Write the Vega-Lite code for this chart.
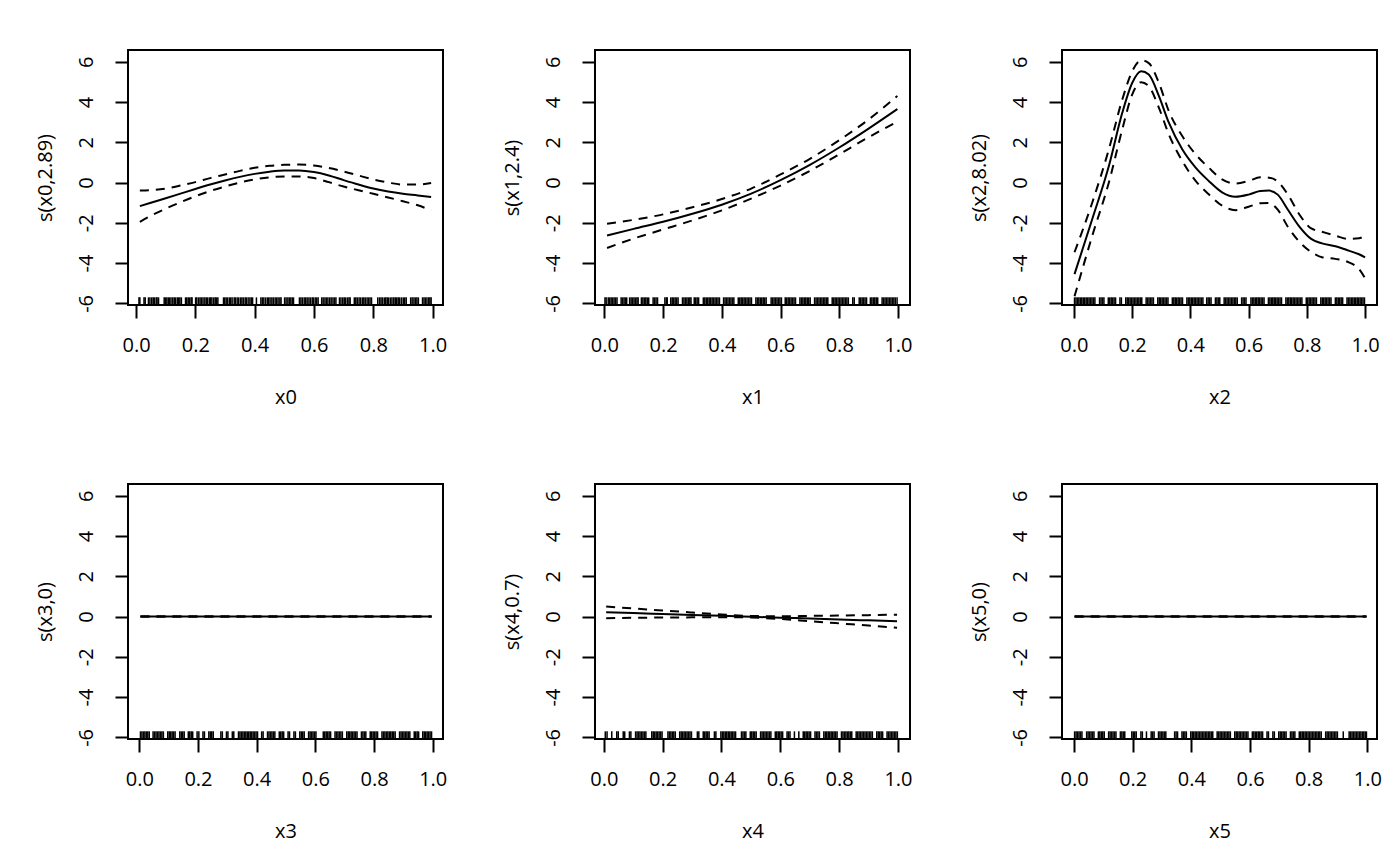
{
  "$schema": "https://vega.github.io/schema/vega-lite/v6.json",
  "background": "white",
  "autosize": {"type": "pad"},
  "padding": {"left": 33, "top": 49, "right": 10, "bottom": 10},
  "columns": 3,
  "spacing": {"row": 179, "column": 152},
  "bounds": "flush",
  "concat": [
    {
      "width": 315, "height": 255,
      "layer": [
        {"data": {"name": "r0"}, "mark": "rule", "encoding": {
          "x": {"field": "data", "type": "quantitative", "title": "x0", "scale": {"domain": [-0.027, 1.035], "nice": false, "zero": false}, "axis": {"values": [0, 0.2, 0.4, 0.6, 0.8, 1], "format": ".1f"}},
          "y": {"datum": -6.08, "type": "quantitative", "title": "s(x0,2.89)", "scale": {"domain": [-6.08, 6.58], "nice": false, "zero": false}, "axis": {"values": [-6, -4, -2, 0, 2, 4, 6], "labelExpr": "toString(datum.value)"}},
          "y2": {"datum": -5.7}}},
        {"data": {"name": "c0"}, "mark": "line", "encoding": {"x": {"field": "x", "type": "quantitative", "title": "x0"}, "y": {"field": "fit", "type": "quantitative", "title": "s(x0,2.89)"}}},
        {"data": {"name": "c0"}, "mark": {"type": "line", "strokeDash": [9, 7]}, "encoding": {"x": {"field": "x", "type": "quantitative", "title": "x0"}, "y": {"field": "up", "type": "quantitative", "title": "s(x0,2.89)"}}},
        {"data": {"name": "c0"}, "mark": {"type": "line", "strokeDash": [9, 7]}, "encoding": {"x": {"field": "x", "type": "quantitative", "title": "x0"}, "y": {"field": "lo", "type": "quantitative", "title": "s(x0,2.89)"}}}
      ]
    },
    {
      "width": 315, "height": 255,
      "layer": [
        {"data": {"name": "r1"}, "mark": "rule", "encoding": {
          "x": {"field": "data", "type": "quantitative", "title": "x1", "scale": {"domain": [-0.032, 1.041], "nice": false, "zero": false}, "axis": {"values": [0, 0.2, 0.4, 0.6, 0.8, 1], "format": ".1f"}},
          "y": {"datum": -6.08, "type": "quantitative", "title": "s(x1,2.4)", "scale": {"domain": [-6.08, 6.58], "nice": false, "zero": false}, "axis": {"values": [-6, -4, -2, 0, 2, 4, 6], "labelExpr": "toString(datum.value)"}},
          "y2": {"datum": -5.7}}},
        {"data": {"name": "c1"}, "mark": "line", "encoding": {"x": {"field": "x", "type": "quantitative", "title": "x1"}, "y": {"field": "fit", "type": "quantitative", "title": "s(x1,2.4)"}}},
        {"data": {"name": "c1"}, "mark": {"type": "line", "strokeDash": [9, 7]}, "encoding": {"x": {"field": "x", "type": "quantitative", "title": "x1"}, "y": {"field": "up", "type": "quantitative", "title": "s(x1,2.4)"}}},
        {"data": {"name": "c1"}, "mark": {"type": "line", "strokeDash": [9, 7]}, "encoding": {"x": {"field": "x", "type": "quantitative", "title": "x1"}, "y": {"field": "lo", "type": "quantitative", "title": "s(x1,2.4)"}}}
      ]
    },
    {
      "width": 315, "height": 255,
      "layer": [
        {"data": {"name": "r2"}, "mark": "rule", "encoding": {
          "x": {"field": "data", "type": "quantitative", "title": "x2", "scale": {"domain": [-0.041, 1.041], "nice": false, "zero": false}, "axis": {"values": [0, 0.2, 0.4, 0.6, 0.8, 1], "format": ".1f"}},
          "y": {"datum": -6.08, "type": "quantitative", "title": "s(x2,8.02)", "scale": {"domain": [-6.08, 6.58], "nice": false, "zero": false}, "axis": {"values": [-6, -4, -2, 0, 2, 4, 6], "labelExpr": "toString(datum.value)"}},
          "y2": {"datum": -5.7}}},
        {"data": {"name": "c2"}, "mark": "line", "encoding": {"x": {"field": "x", "type": "quantitative", "title": "x2"}, "y": {"field": "fit", "type": "quantitative", "title": "s(x2,8.02)"}}},
        {"data": {"name": "c2"}, "mark": {"type": "line", "strokeDash": [9, 7]}, "encoding": {"x": {"field": "x", "type": "quantitative", "title": "x2"}, "y": {"field": "up", "type": "quantitative", "title": "s(x2,8.02)"}}},
        {"data": {"name": "c2"}, "mark": {"type": "line", "strokeDash": [9, 7]}, "encoding": {"x": {"field": "x", "type": "quantitative", "title": "x2"}, "y": {"field": "lo", "type": "quantitative", "title": "s(x2,8.02)"}}}
      ]
    },
    {
      "width": 315, "height": 255,
      "layer": [
        {"data": {"name": "r3"}, "mark": "rule", "encoding": {
          "x": {"field": "data", "type": "quantitative", "title": "x3", "scale": {"domain": [-0.0385, 1.035], "nice": false, "zero": false}, "axis": {"values": [0, 0.2, 0.4, 0.6, 0.8, 1], "format": ".1f"}},
          "y": {"datum": -6.08, "type": "quantitative", "title": "s(x3,0)", "scale": {"domain": [-6.08, 6.58], "nice": false, "zero": false}, "axis": {"values": [-6, -4, -2, 0, 2, 4, 6], "labelExpr": "toString(datum.value)"}},
          "y2": {"datum": -5.7}}},
        {"data": {"name": "c3"}, "mark": "line", "encoding": {"x": {"field": "x", "type": "quantitative", "title": "x3"}, "y": {"field": "fit", "type": "quantitative", "title": "s(x3,0)"}}},
        {"data": {"name": "c3"}, "mark": {"type": "line", "strokeDash": [9, 7]}, "encoding": {"x": {"field": "x", "type": "quantitative", "title": "x3"}, "y": {"field": "up", "type": "quantitative", "title": "s(x3,0)"}}},
        {"data": {"name": "c3"}, "mark": {"type": "line", "strokeDash": [9, 7]}, "encoding": {"x": {"field": "x", "type": "quantitative", "title": "x3"}, "y": {"field": "lo", "type": "quantitative", "title": "s(x3,0)"}}}
      ]
    },
    {
      "width": 315, "height": 255,
      "layer": [
        {"data": {"name": "r4"}, "mark": "rule", "encoding": {
          "x": {"field": "data", "type": "quantitative", "title": "x4", "scale": {"domain": [-0.03, 1.041], "nice": false, "zero": false}, "axis": {"values": [0, 0.2, 0.4, 0.6, 0.8, 1], "format": ".1f"}},
          "y": {"datum": -6.08, "type": "quantitative", "title": "s(x4,0.7)", "scale": {"domain": [-6.08, 6.58], "nice": false, "zero": false}, "axis": {"values": [-6, -4, -2, 0, 2, 4, 6], "labelExpr": "toString(datum.value)"}},
          "y2": {"datum": -5.7}}},
        {"data": {"name": "c4"}, "mark": "line", "encoding": {"x": {"field": "x", "type": "quantitative", "title": "x4"}, "y": {"field": "fit", "type": "quantitative", "title": "s(x4,0.7)"}}},
        {"data": {"name": "c4"}, "mark": {"type": "line", "strokeDash": [9, 7]}, "encoding": {"x": {"field": "x", "type": "quantitative", "title": "x4"}, "y": {"field": "up", "type": "quantitative", "title": "s(x4,0.7)"}}},
        {"data": {"name": "c4"}, "mark": {"type": "line", "strokeDash": [9, 7]}, "encoding": {"x": {"field": "x", "type": "quantitative", "title": "x4"}, "y": {"field": "lo", "type": "quantitative", "title": "s(x4,0.7)"}}}
      ]
    },
    {
      "width": 315, "height": 255,
      "layer": [
        {"data": {"name": "r5"}, "mark": "rule", "encoding": {
          "x": {"field": "data", "type": "quantitative", "title": "x5", "scale": {"domain": [-0.041, 1.033], "nice": false, "zero": false}, "axis": {"values": [0, 0.2, 0.4, 0.6, 0.8, 1], "format": ".1f"}},
          "y": {"datum": -6.08, "type": "quantitative", "title": "s(x5,0)", "scale": {"domain": [-6.08, 6.58], "nice": false, "zero": false}, "axis": {"values": [-6, -4, -2, 0, 2, 4, 6], "labelExpr": "toString(datum.value)"}},
          "y2": {"datum": -5.7}}},
        {"data": {"name": "c5"}, "mark": "line", "encoding": {"x": {"field": "x", "type": "quantitative", "title": "x5"}, "y": {"field": "fit", "type": "quantitative", "title": "s(x5,0)"}}},
        {"data": {"name": "c5"}, "mark": {"type": "line", "strokeDash": [9, 7]}, "encoding": {"x": {"field": "x", "type": "quantitative", "title": "x5"}, "y": {"field": "up", "type": "quantitative", "title": "s(x5,0)"}}},
        {"data": {"name": "c5"}, "mark": {"type": "line", "strokeDash": [9, 7]}, "encoding": {"x": {"field": "x", "type": "quantitative", "title": "x5"}, "y": {"field": "lo", "type": "quantitative", "title": "s(x5,0)"}}}
      ]
    }
  ],
  "datasets": {
    "c0": [
      {"x": 0.013, "fit": -1.17, "up": -0.4, "lo": -1.95},
      {"x": 0.05, "fit": -1.0, "up": -0.38, "lo": -1.65},
      {"x": 0.1, "fit": -0.78, "up": -0.3, "lo": -1.3},
      {"x": 0.15, "fit": -0.55, "up": -0.15, "lo": -0.98},
      {"x": 0.2, "fit": -0.32, "up": 0.02, "lo": -0.68},
      {"x": 0.25, "fit": -0.1, "up": 0.22, "lo": -0.42},
      {"x": 0.3, "fit": 0.1, "up": 0.4, "lo": -0.2},
      {"x": 0.35, "fit": 0.28, "up": 0.58, "lo": 0.0},
      {"x": 0.4, "fit": 0.43, "up": 0.73, "lo": 0.16},
      {"x": 0.45, "fit": 0.54, "up": 0.83, "lo": 0.26},
      {"x": 0.5, "fit": 0.6, "up": 0.88, "lo": 0.3},
      {"x": 0.55, "fit": 0.6, "up": 0.89, "lo": 0.3},
      {"x": 0.6, "fit": 0.52, "up": 0.84, "lo": 0.22},
      {"x": 0.65, "fit": 0.35, "up": 0.72, "lo": 0.02},
      {"x": 0.7, "fit": 0.12, "up": 0.55, "lo": -0.2},
      {"x": 0.75, "fit": -0.1, "up": 0.35, "lo": -0.38},
      {"x": 0.8, "fit": -0.3, "up": 0.15, "lo": -0.56},
      {"x": 0.85, "fit": -0.45, "up": 0.0, "lo": -0.74},
      {"x": 0.9, "fit": -0.56, "up": -0.1, "lo": -0.93},
      {"x": 0.95, "fit": -0.64, "up": -0.1, "lo": -1.13},
      {"x": 0.995, "fit": -0.72, "up": -0.02, "lo": -1.38}
    ],
    "c1": [
      {"x": 0.009, "fit": -2.63, "up": -2.05, "lo": -3.25},
      {"x": 0.1, "fit": -2.3, "up": -1.85, "lo": -2.78},
      {"x": 0.2, "fit": -1.95, "up": -1.58, "lo": -2.33},
      {"x": 0.3, "fit": -1.55, "up": -1.23, "lo": -1.88},
      {"x": 0.4, "fit": -1.1, "up": -0.82, "lo": -1.38},
      {"x": 0.5, "fit": -0.55, "up": -0.3, "lo": -0.8},
      {"x": 0.6, "fit": 0.12, "up": 0.4, "lo": -0.15},
      {"x": 0.7, "fit": 0.88, "up": 1.18, "lo": 0.58},
      {"x": 0.8, "fit": 1.74, "up": 2.1, "lo": 1.4},
      {"x": 0.9, "fit": 2.68, "up": 3.13, "lo": 2.25},
      {"x": 0.998, "fit": 3.65, "up": 4.3, "lo": 3.02}
    ],
    "c2": [
      {"x": 0.002, "fit": -4.55, "up": -3.46, "lo": -5.65},
      {"x": 0.063, "fit": -1.81, "up": -0.99, "lo": -2.64},
      {"x": 0.12, "fit": 0.82, "up": 1.65, "lo": 0.0},
      {"x": 0.166, "fit": 3.46, "up": 4.12, "lo": 2.64},
      {"x": 0.2, "fit": 4.94, "up": 5.52, "lo": 4.37},
      {"x": 0.231, "fit": 5.52, "up": 6.07, "lo": 4.98},
      {"x": 0.257, "fit": 5.36, "up": 5.93, "lo": 4.78},
      {"x": 0.292, "fit": 4.29, "up": 4.94, "lo": 3.71},
      {"x": 0.326, "fit": 2.97, "up": 3.54, "lo": 2.39},
      {"x": 0.372, "fit": 1.65, "up": 2.31, "lo": 1.07},
      {"x": 0.418, "fit": 0.74, "up": 1.4, "lo": 0.08},
      {"x": 0.463, "fit": 0.08, "up": 0.74, "lo": -0.58},
      {"x": 0.509, "fit": -0.49, "up": 0.16, "lo": -1.15},
      {"x": 0.555, "fit": -0.71, "up": -0.05, "lo": -1.37},
      {"x": 0.6, "fit": -0.6, "up": 0.08, "lo": -1.2},
      {"x": 0.64, "fit": -0.42, "up": 0.26, "lo": -1.03},
      {"x": 0.67, "fit": -0.4, "up": 0.24, "lo": -1.02},
      {"x": 0.7, "fit": -0.6, "up": 0.05, "lo": -1.35},
      {"x": 0.735, "fit": -1.35, "up": -0.6, "lo": -2.2},
      {"x": 0.775, "fit": -2.2, "up": -1.6, "lo": -2.95},
      {"x": 0.815, "fit": -2.8, "up": -2.28, "lo": -3.45},
      {"x": 0.852, "fit": -3.02, "up": -2.44, "lo": -3.71},
      {"x": 0.898, "fit": -3.16, "up": -2.64, "lo": -3.79},
      {"x": 0.944, "fit": -3.38, "up": -2.8, "lo": -3.96},
      {"x": 0.979, "fit": -3.56, "up": -2.77, "lo": -4.29},
      {"x": 1.0, "fit": -3.71, "up": -2.64, "lo": -4.75}
    ],
    "c3": [
      {"x": 0.004, "fit": 0, "up": 0, "lo": 0},
      {"x": 0.996, "fit": 0, "up": 0, "lo": 0}
    ],
    "c4": [
      {"x": 0.008, "fit": 0.21, "up": 0.5, "lo": -0.08},
      {"x": 0.1, "fit": 0.17, "up": 0.4, "lo": -0.06},
      {"x": 0.2, "fit": 0.125, "up": 0.3, "lo": -0.05},
      {"x": 0.3, "fit": 0.08, "up": 0.2, "lo": -0.04},
      {"x": 0.4, "fit": 0.035, "up": 0.1, "lo": -0.03},
      {"x": 0.5, "fit": -0.01, "up": 0.03, "lo": -0.05},
      {"x": 0.6, "fit": -0.055, "up": 0.01, "lo": -0.12},
      {"x": 0.7, "fit": -0.1, "up": 0.03, "lo": -0.23},
      {"x": 0.8, "fit": -0.145, "up": 0.05, "lo": -0.34},
      {"x": 0.9, "fit": -0.19, "up": 0.07, "lo": -0.45},
      {"x": 0.997, "fit": -0.23, "up": 0.09, "lo": -0.56}
    ],
    "c5": [
      {"x": 0.002, "fit": 0, "up": 0, "lo": 0},
      {"x": 0.997, "fit": 0, "up": 0, "lo": 0}
    ],
    "r0": [0.010, 0.013, 0.027, 0.031, 0.042, 0.047, 0.053, 0.058, 0.062, 0.068, 0.071, 0.076, 0.095, 0.099, 0.104, 0.109, 0.113, 0.118, 0.124, 0.129, 0.133, 0.139, 0.144, 0.148, 0.153, 0.167, 0.171, 0.176, 0.181, 0.186, 0.189, 0.201, 0.205, 0.211, 0.216, 0.221, 0.226, 0.232, 0.237, 0.241, 0.247, 0.252, 0.256, 0.262, 0.267, 0.271, 0.276, 0.295, 0.299, 0.304, 0.309, 0.315, 0.319, 0.324, 0.331, 0.335, 0.341, 0.346, 0.352, 0.357, 0.362, 0.368, 0.372, 0.378, 0.384, 0.389, 0.393, 0.406, 0.421, 0.426, 0.431, 0.437, 0.443, 0.447, 0.452, 0.458, 0.463, 0.469, 0.474, 0.479, 0.485, 0.489, 0.501, 0.506, 0.512, 0.517, 0.522, 0.527, 0.531, 0.551, 0.556, 0.561, 0.567, 0.572, 0.577, 0.583, 0.588, 0.594, 0.598, 0.604, 0.609, 0.614, 0.626, 0.631, 0.637, 0.642, 0.647, 0.653, 0.658, 0.664, 0.669, 0.674, 0.686, 0.691, 0.697, 0.702, 0.707, 0.713, 0.718, 0.722, 0.736, 0.741, 0.746, 0.752, 0.757, 0.763, 0.768, 0.773, 0.779, 0.784, 0.789, 0.794, 0.815, 0.821, 0.826, 0.831, 0.837, 0.842, 0.847, 0.852, 0.858, 0.863, 0.869, 0.874, 0.879, 0.884, 0.889, 0.895, 0.901, 0.906, 0.911, 0.926, 0.931, 0.937, 0.942, 0.947, 0.952, 0.966, 0.971, 0.976, 0.981, 0.987, 0.991, 0.995],
    "r1": [0.002, 0.006, 0.013, 0.018, 0.023, 0.028, 0.033, 0.038, 0.043, 0.057, 0.062, 0.067, 0.072, 0.076, 0.086, 0.091, 0.096, 0.101, 0.106, 0.111, 0.115, 0.126, 0.131, 0.136, 0.141, 0.146, 0.151, 0.166, 0.171, 0.176, 0.181, 0.206, 0.211, 0.214, 0.226, 0.231, 0.236, 0.241, 0.246, 0.251, 0.266, 0.271, 0.276, 0.281, 0.286, 0.291, 0.295, 0.306, 0.311, 0.316, 0.321, 0.337, 0.342, 0.347, 0.352, 0.357, 0.362, 0.367, 0.372, 0.377, 0.382, 0.387, 0.392, 0.406, 0.411, 0.416, 0.421, 0.426, 0.431, 0.436, 0.441, 0.456, 0.461, 0.466, 0.471, 0.476, 0.481, 0.486, 0.491, 0.496, 0.501, 0.516, 0.521, 0.526, 0.531, 0.536, 0.541, 0.546, 0.551, 0.568, 0.573, 0.578, 0.583, 0.588, 0.593, 0.598, 0.603, 0.616, 0.621, 0.626, 0.631, 0.636, 0.641, 0.646, 0.651, 0.666, 0.671, 0.676, 0.681, 0.686, 0.691, 0.696, 0.701, 0.716, 0.721, 0.726, 0.731, 0.736, 0.741, 0.746, 0.751, 0.756, 0.761, 0.776, 0.781, 0.786, 0.791, 0.796, 0.801, 0.806, 0.811, 0.816, 0.821, 0.826, 0.831, 0.846, 0.851, 0.868, 0.873, 0.878, 0.883, 0.888, 0.893, 0.906, 0.911, 0.916, 0.921, 0.926, 0.931, 0.946, 0.951, 0.956, 0.961, 0.966, 0.971, 0.976, 0.981, 0.986, 0.991, 0.997],
    "r2": [0.002, 0.007, 0.012, 0.017, 0.022, 0.027, 0.032, 0.037, 0.042, 0.047, 0.052, 0.057, 0.062, 0.067, 0.072, 0.088, 0.093, 0.098, 0.103, 0.118, 0.123, 0.128, 0.133, 0.138, 0.143, 0.158, 0.163, 0.178, 0.183, 0.188, 0.193, 0.198, 0.203, 0.208, 0.213, 0.218, 0.223, 0.228, 0.233, 0.248, 0.253, 0.258, 0.263, 0.268, 0.273, 0.288, 0.293, 0.298, 0.303, 0.308, 0.313, 0.318, 0.323, 0.338, 0.343, 0.348, 0.353, 0.358, 0.363, 0.368, 0.373, 0.388, 0.393, 0.398, 0.403, 0.408, 0.413, 0.418, 0.423, 0.428, 0.433, 0.438, 0.443, 0.456, 0.461, 0.466, 0.471, 0.486, 0.491, 0.496, 0.501, 0.516, 0.521, 0.526, 0.531, 0.536, 0.541, 0.546, 0.551, 0.556, 0.561, 0.576, 0.581, 0.586, 0.591, 0.608, 0.613, 0.618, 0.623, 0.628, 0.633, 0.638, 0.643, 0.648, 0.653, 0.668, 0.673, 0.678, 0.683, 0.688, 0.693, 0.698, 0.703, 0.708, 0.713, 0.728, 0.733, 0.738, 0.743, 0.748, 0.753, 0.758, 0.763, 0.768, 0.773, 0.778, 0.783, 0.798, 0.803, 0.808, 0.813, 0.818, 0.823, 0.828, 0.833, 0.848, 0.853, 0.858, 0.863, 0.868, 0.873, 0.878, 0.883, 0.898, 0.903, 0.908, 0.913, 0.918, 0.923, 0.938, 0.943, 0.948, 0.953, 0.958, 0.963, 0.968, 0.973, 0.978, 0.983, 0.988, 0.993, 0.998],
    "r3": [0.004, 0.009, 0.014, 0.019, 0.024, 0.029, 0.034, 0.047, 0.052, 0.057, 0.062, 0.067, 0.072, 0.077, 0.082, 0.097, 0.102, 0.107, 0.112, 0.117, 0.122, 0.138, 0.143, 0.148, 0.153, 0.167, 0.172, 0.177, 0.182, 0.197, 0.203, 0.217, 0.222, 0.237, 0.242, 0.247, 0.252, 0.278, 0.283, 0.297, 0.302, 0.317, 0.322, 0.338, 0.343, 0.348, 0.353, 0.358, 0.363, 0.368, 0.373, 0.378, 0.383, 0.388, 0.393, 0.398, 0.403, 0.417, 0.422, 0.437, 0.442, 0.447, 0.452, 0.457, 0.462, 0.477, 0.482, 0.487, 0.492, 0.507, 0.512, 0.527, 0.532, 0.547, 0.552, 0.557, 0.562, 0.577, 0.582, 0.587, 0.592, 0.597, 0.602, 0.627, 0.632, 0.637, 0.642, 0.647, 0.652, 0.667, 0.672, 0.677, 0.682, 0.687, 0.692, 0.707, 0.712, 0.717, 0.722, 0.727, 0.732, 0.737, 0.742, 0.757, 0.762, 0.767, 0.772, 0.787, 0.792, 0.797, 0.802, 0.807, 0.812, 0.827, 0.832, 0.837, 0.842, 0.847, 0.852, 0.857, 0.862, 0.867, 0.872, 0.887, 0.892, 0.897, 0.902, 0.907, 0.912, 0.917, 0.922, 0.937, 0.942, 0.947, 0.952, 0.966, 0.971, 0.976, 0.981, 0.986, 0.991, 0.996],
    "r4": [0.005, 0.011, 0.027, 0.044, 0.049, 0.066, 0.071, 0.087, 0.092, 0.108, 0.113, 0.118, 0.123, 0.128, 0.133, 0.138, 0.143, 0.163, 0.168, 0.173, 0.178, 0.183, 0.188, 0.193, 0.198, 0.218, 0.223, 0.228, 0.233, 0.238, 0.243, 0.258, 0.263, 0.268, 0.273, 0.278, 0.283, 0.288, 0.293, 0.298, 0.318, 0.323, 0.338, 0.343, 0.348, 0.353, 0.358, 0.376, 0.381, 0.398, 0.403, 0.408, 0.413, 0.418, 0.423, 0.428, 0.433, 0.438, 0.443, 0.448, 0.468, 0.473, 0.478, 0.483, 0.498, 0.503, 0.508, 0.513, 0.518, 0.533, 0.538, 0.543, 0.548, 0.553, 0.558, 0.563, 0.568, 0.583, 0.588, 0.593, 0.598, 0.603, 0.608, 0.623, 0.628, 0.633, 0.648, 0.663, 0.678, 0.683, 0.688, 0.693, 0.698, 0.703, 0.718, 0.723, 0.728, 0.733, 0.748, 0.753, 0.758, 0.763, 0.768, 0.773, 0.778, 0.783, 0.788, 0.793, 0.808, 0.813, 0.818, 0.823, 0.828, 0.833, 0.838, 0.843, 0.858, 0.863, 0.868, 0.873, 0.878, 0.883, 0.888, 0.893, 0.898, 0.903, 0.908, 0.913, 0.928, 0.933, 0.938, 0.943, 0.948, 0.963, 0.968, 0.973, 0.978, 0.983, 0.988, 0.993, 0.998],
    "r5": [0.002, 0.007, 0.012, 0.017, 0.022, 0.027, 0.043, 0.048, 0.053, 0.058, 0.063, 0.068, 0.083, 0.088, 0.093, 0.098, 0.103, 0.118, 0.123, 0.128, 0.133, 0.138, 0.143, 0.158, 0.163, 0.168, 0.173, 0.197, 0.202, 0.207, 0.212, 0.228, 0.233, 0.247, 0.263, 0.268, 0.273, 0.288, 0.293, 0.298, 0.303, 0.308, 0.313, 0.343, 0.348, 0.353, 0.368, 0.373, 0.378, 0.383, 0.398, 0.403, 0.408, 0.413, 0.418, 0.423, 0.428, 0.433, 0.438, 0.443, 0.448, 0.453, 0.458, 0.463, 0.468, 0.473, 0.488, 0.493, 0.498, 0.503, 0.508, 0.513, 0.518, 0.523, 0.528, 0.533, 0.548, 0.553, 0.558, 0.563, 0.568, 0.573, 0.578, 0.583, 0.588, 0.593, 0.608, 0.613, 0.618, 0.623, 0.628, 0.633, 0.638, 0.643, 0.658, 0.663, 0.678, 0.683, 0.698, 0.703, 0.708, 0.713, 0.718, 0.723, 0.738, 0.743, 0.748, 0.753, 0.768, 0.773, 0.778, 0.783, 0.788, 0.793, 0.798, 0.803, 0.808, 0.813, 0.818, 0.823, 0.828, 0.833, 0.838, 0.843, 0.858, 0.863, 0.868, 0.873, 0.878, 0.883, 0.888, 0.893, 0.898, 0.918, 0.938, 0.943, 0.948, 0.953, 0.958, 0.963, 0.968, 0.973, 0.978, 0.983, 0.988, 0.993, 0.997]
  },
  "config": {
    "view": {"stroke": "black", "strokeWidth": 2},
    "font": "Open Sans",
    "axis": {
      "domain": false, "grid": false, "ticks": true,
      "tickColor": "black", "tickWidth": 2, "tickSize": 13,
      "labelFont": "Open Sans", "labelFontSize": 20, "labelColor": "black",
      "labelFlush": false, "labelOverlap": false,
      "titleFont": "Open Sans", "titleFontSize": 20, "titleFontWeight": "normal", "titleColor": "black"
    },
    "axisX": {"labelBaseline": "alphabetic", "labelPadding": 33, "titleBaseline": "alphabetic", "titleY": 98},
    "axisY": {"labelAngle": -90, "labelAlign": "center", "labelBaseline": "alphabetic", "labelPadding": 23, "titleAngle": -90, "titleAlign": "center", "titleBaseline": "alphabetic", "titleX": -77, "titleY": 127.5},
    "line": {"color": "black", "strokeWidth": 2, "interpolate": "monotone"},
    "rule": {"color": "black", "strokeWidth": 1.5}
  }
}
